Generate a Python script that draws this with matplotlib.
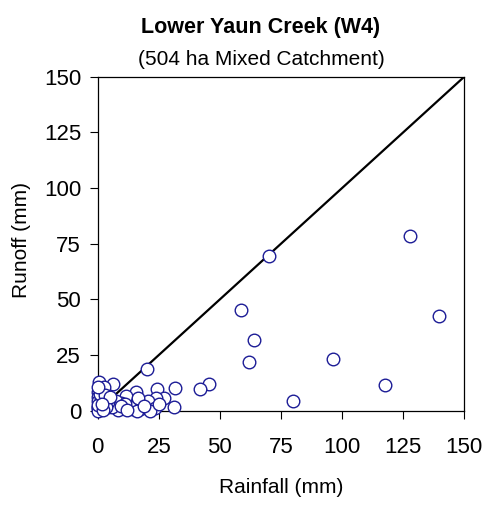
import matplotlib
matplotlib.use("Agg")
import matplotlib.pyplot as plt

plt.rcParams['font.family'] = ['Liberation Sans', 'DejaVu Sans']

title = "Lower Yaun Creek (W4)"
subtitle = "(504 ha Mixed Catchment)"
x_label = "Rainfall (mm)"
y_label = "Runoff (mm)"
ticks = [0, 25, 50, 75, 100, 125, 150]

rainfall = [70.1, 127.8, 58.6, 139.7, 63.8, 61.9, 96.2, 117.4, 79.8, 45.5, 41.9,
            20.3, 31.6, 24.1, 15.7, 27.1, 23.7, 11.7, 20.7, 31.3, 23.4, 17.4, 14.3,
            0.5, 6.3, 2.7, 0.0, 0.0, 0.3, 0.8, 3.5, 0.1, 4.2, 6.3, 9.7, 13.1, 16.5,
            0.0, 8.3, 16.2, 21.4, 7.5, 5.7, 4.3, 3.3, 11.2, 9.5, 0.0, 1.5, 0.0, 2.0,
            1.0, 3.0, 5.0, 19.0, 25.0, 0.0, 1.8, 12.0]
runoff = [69.6, 78.6, 45.2, 42.4, 31.6, 22.0, 23.2, 11.4, 4.4, 11.8, 9.6,
          18.6, 10.0, 9.7, 8.5, 5.6, 5.8, 6.6, 4.4, 1.5, 1.3, 0.6, 0.6,
          13.0, 12.0, 10.8, 8.5, 6.3, 1.8, 3.3, 4.0, 1.1, 1.8, 3.3, 3.3, 1.8, 5.6,
          0.0, 0.3, 0.0, 0.0, 4.5, 1.8, 4.0, 1.8, 3.0, 2.1, 4.5, 5.5, 2.5, 0.5,
          7.5, 7.0, 6.0, 2.0, 3.0, 10.5, 3.0, 0.5]
line_x = [0, 150]
line_y = [0, 150]

W, H = 494, 505
fig = plt.figure(figsize=(W / 100, H / 100), dpi=100)
ax = fig.add_axes([97.7 / W, 1 - 410.7 / H, 366.6 / W, 334.0 / H])
ax.plot(line_x, line_y, color='black', linewidth=1.6, zorder=2)
ax.scatter(rainfall, runoff, s=82, facecolors='white', edgecolors='#1c1c96',
           linewidths=1.0, zorder=3, clip_on=False)
ax.set_xlim(0, 150)
ax.set_ylim(0, 150)
ax.set_xticks(ticks)
ax.set_yticks(ticks)
ax.tick_params(direction='out', length=6, width=0.8, labelsize=16)
ax.tick_params(axis='x', pad=13)
ax.tick_params(axis='y', pad=6)
for s in ax.spines.values():
    s.set_linewidth(0.9)

fig.text(281 / W, 1 - 493 / H, x_label, ha='center', va='baseline', fontsize=15)
fig.text(22 / W, 1 - 240 / H, y_label, ha='center', va='center', rotation=90,
         fontsize=15)
fig.text(261 / W, 1 - 33 / H, title, ha='center', va='baseline',
         fontsize=15.5, fontweight='bold')
fig.text(261 / W, 1 - 65 / H, subtitle, ha='center', va='baseline', fontsize=15)

fig.savefig("out.png", dpi=100)
